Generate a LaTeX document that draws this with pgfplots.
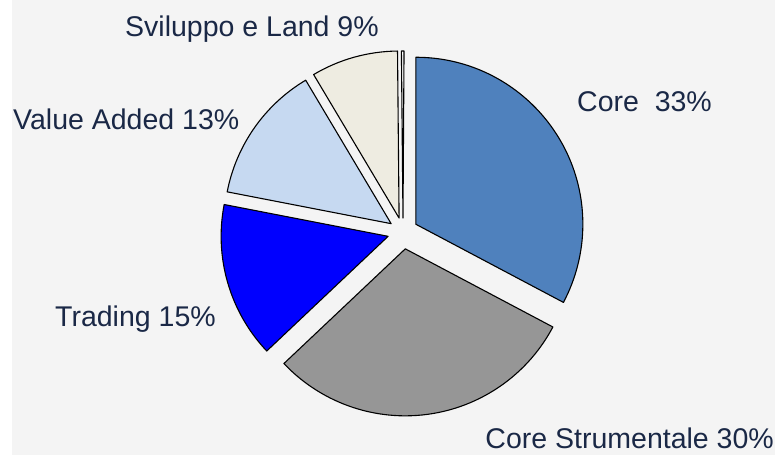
\documentclass[border=0pt]{standalone}
\usepackage{pgfplots}
\usepackage{pgfplotstable}
\pgfplotsset{compat=1.18}
\usepackage{fontspec}
\setmainfont{Liberation Sans}
\definecolor{bgc}{HTML}{F4F4F4}
\definecolor{txt}{HTML}{1A2846}
\definecolor{cCore}{HTML}{4F81BD}
\definecolor{cStrum}{HTML}{969696}
\definecolor{cTrad}{HTML}{0000FF}
\definecolor{cVA}{HTML}{C6D9F1}
\definecolor{cSvil}{HTML}{EEECE1}
\definecolor{cOther}{HTML}{FFFFFF}

% slice values (percent), explosion offset (px), fill colour
\pgfplotstableread{
value explode fillc
32.75 15.0 cCore
30.2 17.0 cStrum
15.1 15.5 cTrad
13.4 14.5 cVA
8.4 14.5 cSvil
0.25 14.0 cOther
}\piedata

\begin{document}
\begin{tikzpicture}
\begin{axis}[at={(0,0)},anchor=south west,scale only axis,
  width=775bp,height=455bp,xmin=0,xmax=775,ymin=0,ymax=455,
  hide axis,clip=false]
\pgfplotsextra{%
  \fill[white] (axis cs:0,0) rectangle (axis cs:775,455);
  \fill[bgc] (axis cs:12,0) rectangle (axis cs:775,455);
  \def\startang{90}%
  \pgfplotsforeachungrouped \r in {0,...,5}{%
    \pgfplotstablegetelem{\r}{value}\of{\piedata}\let\val\pgfplotsretval
    \pgfplotstablegetelem{\r}{explode}\of{\piedata}\let\ex\pgfplotsretval
    \pgfplotstablegetelem{\r}{fillc}\of{\piedata}\let\fc\pgfplotsretval
    \pgfmathsetmacro{\endang}{\startang-3.6*\val}%
    \pgfmathsetmacro{\midang}{(\startang+\endang)/2}%
    \pgfmathsetmacro{\cx}{403+\ex*cos(\midang)}%
    \pgfmathsetmacro{\cy}{223+\ex*sin(\midang)}%
    \filldraw[fill=\fc,draw=black,line width=1.1bp,line join=round]
      (axis cs:\cx,\cy) -- ++(\startang:167bp)
      arc[start angle=\startang,end angle=\endang,radius=167bp] -- cycle;
    \global\let\startang\endang
  }%
}
\tikzset{lab/.style={font=\fontsize{28.5bp}{34bp}\selectfont,text=txt,inner sep=0pt}}
\node[lab,anchor=base west] at (axis cs:125,418) {Sviluppo e Land 9\%};
\node[lab,anchor=base west] at (axis cs:577,343) {Core\ \ 33\%};
\node[lab,anchor=base west] at (axis cs:13,325) {Value Added 13\%};
\node[lab,anchor=base west] at (axis cs:55,128) {Trading 15\%};
\node[lab,anchor=base east] at (axis cs:774,7) {Core Strumentale 30\%};
\end{axis}
\pgfresetboundingbox
\path (0,0) rectangle (775bp,455bp);
\end{tikzpicture}
\end{document}
